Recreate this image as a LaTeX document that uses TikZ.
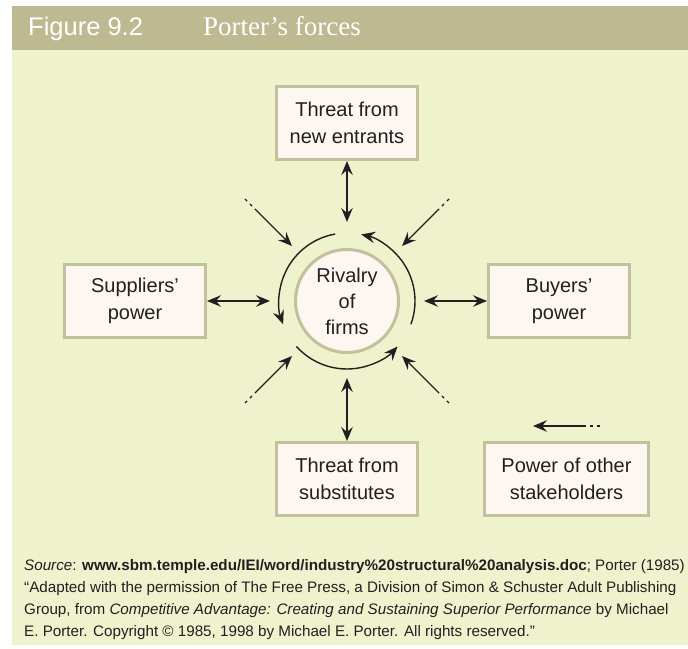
\documentclass[tikz,border=0pt]{standalone}
\usepackage{fontspec}
\setmainfont{Liberation Sans}
\newfontfamily\headserif{Liberation Serif}
\usetikzlibrary{arrows.meta}
\definecolor{khaki}{HTML}{BDB991}
\definecolor{panel}{HTML}{EEF3CE}
\definecolor{boxfill}{HTML}{FDF7F2}
\definecolor{boxline}{HTML}{C4C09C}
\definecolor{ink}{HTML}{231F20}
\begin{document}
\begin{tikzpicture}[x=1pt,y=1pt,
  tip/.tip={Stealth[length=14pt,width=11.5pt,inset=5pt]},
  force/.style={draw=boxline, line width=3pt, fill=boxfill, minimum width=141pt,
    minimum height=73pt, inner sep=0pt, align=center, text=ink,
    font=\fontsize{20}{27}\selectfont},
  hub/.style={circle, draw=boxline, line width=3pt, fill=boxfill, minimum size=103pt,
    inner sep=0pt, align=center, text=ink, font=\fontsize{20}{26}\selectfont},
  link/.style={draw=ink, line width=1.4pt, -tip},
  twoway/.style={draw=ink, line width=1.4pt, tip-tip},
  faint/.style={link, dash pattern=on 3pt off 4pt on 3pt off 4pt on 400pt off 0pt},
]
\useasboundingbox (0,0) rectangle (688,648);
\fill[white] (0,0) rectangle (688,648);
% panel and heading bar
\fill[panel] (12,3) rectangle (688,642);
\fill[khaki] (12,598) rectangle (688,642);
\node[anchor=base west, text=white, font=\fontsize{25.5}{28}\selectfont, inner sep=0pt]
  (fignum) at (28,612) {Figure 9.2};
\node[anchor=base west, text=white, font=\headserif\fontsize{27}{30}\selectfont, inner sep=0pt]
  (figtitle) at (203,612) {Porter’s forces};

% the five forces and the centre
\node[force] (entrants) at (347,525) {Threat from\\new entrants};
\node[force] (suppliers) at (135,347) {Suppliers’\\power};
\node[force] (buyers) at (559,347) {Buyers’\\power};
\node[force] (subst) at (347,169) {Threat from\\substitutes};
\node[force, minimum width=164pt] (others) at (566.5,169) {Power of other\\stakeholders};
\node[hub] (rivalry) at (347,347) {Rivalry\\of\\firms};

% inner ends of the two-way links
\coordinate (nIn) at (347,426);
\coordinate (sIn) at (347,270);
\coordinate (wIn) at (270,347);
\coordinate (eIn) at (424,347);
\draw[twoway] (entrants.south) -- (nIn);
\draw[twoway] (sIn) -- (subst.north);
\draw[twoway] (suppliers.east) -- (wIn);
\draw[twoway] (eIn) -- (buyers.west);

% pressure from other stakeholders, on the diagonals
\coordinate (ulOut) at (245,449); \coordinate (ulIn) at (292,402);
\coordinate (urOut) at (449,449); \coordinate (urIn) at (402,402);
\coordinate (llOut) at (245,245); \coordinate (llIn) at (292,292);
\coordinate (lrOut) at (449,245); \coordinate (lrIn) at (402,292);
\draw[faint] (ulOut) -- (ulIn);
\draw[faint] (urOut) -- (urIn);
\draw[faint] (llOut) -- (llIn);
\draw[faint] (lrOut) -- (lrIn);

% rivalry cycle around the centre
\draw[link] ([shift={(100:68)}]rivalry.center) arc[start angle=100, end angle=200, radius=68];
\draw[link] ([shift={(-20:68)}]rivalry.center) arc[start angle=-20, end angle=78, radius=68];
\draw[link] ([shift={(222:68)}]rivalry.center) arc[start angle=222, end angle=318, radius=68];

% key arrow
\coordinate (keyOut) at (600,222);
\coordinate (keyIn) at (533,222);
\draw[faint] (keyOut) -- (keyIn);

% source note (anchored on the baseline of its last line)
\node[anchor=base west, align=left, text=ink, inner sep=0pt,
  font=\fontsize{15.2}{22}\selectfont] (note) at (24,12)
  {\textit{Source}: \textbf{www.sbm.temple.edu/IEI/word/industry\%20structural\%20analysis.doc}; Porter (1985)\\
   “Adapted with the permission of The Free Press, a Division of Simon \& Schuster Adult Publishing\\
   Group, from \textit{Competitive Advantage: Creating and Sustaining Superior Performance} by Michael\\
   E. Porter. Copyright © 1985, 1998 by Michael E. Porter. All rights reserved.”};
\end{tikzpicture}
\end{document}
